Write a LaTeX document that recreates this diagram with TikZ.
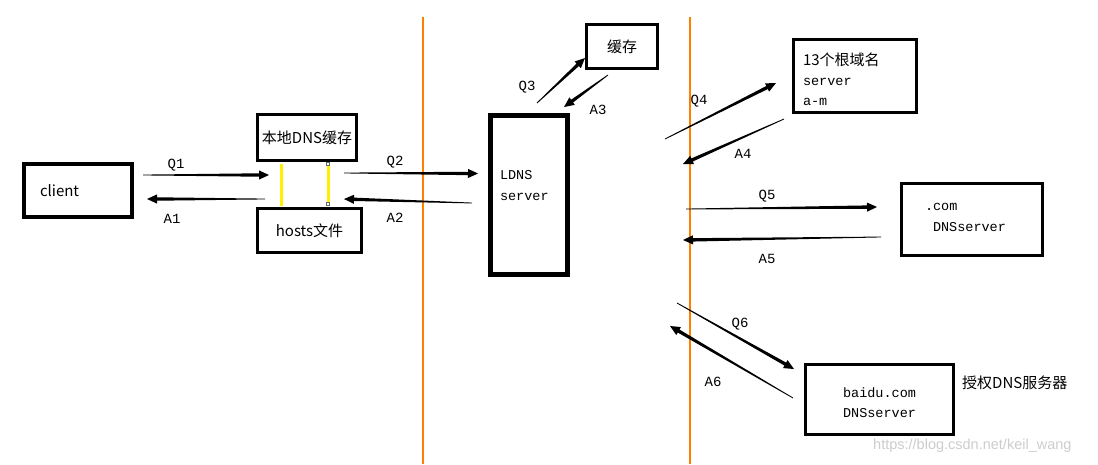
\documentclass[tikz,border=0pt]{standalone}
\usepackage{fontspec}
\setmainfont{Liberation Mono}
\newfontfamily\cjk{Noto Sans CJK SC}
\newfontfamily\wmfont{Liberation Sans}
\usepackage{tikz}
\usetikzlibrary{calc}

\definecolor{zone}{RGB}{255,128,0}
\definecolor{hostlink}{RGB}{255,240,0}
\definecolor{wmgray}{RGB}{205,205,205}

% tapered message arrow: thin tail, thick end, filled head
\newcommand{\flowarrow}[2]{%
  \path ($(#2)!10pt!(#1)$) coordinate (ah);
  \fill[black] ($(#1)!0.4pt!90:(#2)$) -- ($(ah)!1.7pt!90:(#2)$) -- ($(ah)!4.6pt!90:(#2)$) -- (#2)
    -- ($(ah)!4.6pt!-90:(#2)$) -- ($(ah)!1.7pt!-90:(#2)$) -- ($(#1)!0.4pt!-90:(#2)$) -- cycle;}

\begin{document}
\begin{tikzpicture}[
  x=1pt,y=-1pt,
  font=\fontsize{13.5}{21}\selectfont,
  box/.style={rectangle,draw=black,line width=3pt,inner sep=2pt},
  cjktext/.style={font=\cjk\fontsize{15}{18}\selectfont},
  lbl/.style={font=\fontsize{14}{16}\selectfont,inner sep=0pt},
  yel/.style={draw=hostlink,line width=3pt,shorten <=1.5pt,shorten >=1.5pt},
  handle/.style={rectangle,draw=black!60,fill=white,line width=0.6pt,minimum size=3.5pt,inner sep=0pt},
  zoneline/.style={draw=zone,line width=1.2pt},
  wm/.style={font=\wmfont\fontsize{14.5}{16}\selectfont,text=wmgray,inner sep=0pt}
]
\fill[white] (0,0) rectangle (1098,464);
\useasboundingbox (0,0) rectangle (1098,464);

% ===================== zone borders =====================
\draw[zoneline] (423,17) -- (423,464);
\draw[zoneline] (690,17) -- (690,464);

% ===================== host side =====================
\node[box,line width=4pt,cjktext,minimum width=108pt,minimum height=53pt,
      text width=76pt,inner xsep=16pt,align=left] (client) at (78,190.5) {client};
\node[box,cjktext,minimum width=99pt,minimum height=46pt] (lc) at (307,137.5) {本地DNS缓存};
\node[box,cjktext,minimum width=104pt,minimum height=44pt] (hf) at (309.5,230.5) {hosts文件};

% cache <-> hosts file
\draw[yel] (281,0 |- lc.south) -- (281,0 |- hf.north);
\draw[yel] (328,0 |- lc.south) -- (328,0 |- hf.north);
\node[handle] (h1) at ($(328,0 |- lc.south)+(0,2)$) {};
\node[handle] (h2) at ($(328,0 |- hf.north)+(0,-3)$) {};

% ===================== local DNS =====================
\node[box,line width=5pt,minimum width=77pt,minimum height=159pt,text width=58pt,
      inner xsep=9.5pt,align=left,text height=10pt,text depth=42pt] (ldns) at (529,195) {LDNS\\server};
\node[box,cjktext,minimum width=71pt,minimum height=44pt] (cache) at (622,46.5) {缓存};

% ===================== upstream servers =====================
\node[box,font=\fontsize{13.5}{20}\selectfont,minimum width=123pt,minimum height=73pt,text width=104pt,
      inner xsep=9.5pt,align=left,text height=13pt,text depth=35pt] (root) at (855,76)
  {{\cjk\fontsize{15}{20}\selectfont 13个根域名}\\server\\a-m};
\node[box,minimum width=141pt,minimum height=72pt,text width=94pt,inner xsep=23.5pt,
      align=left,text height=10pt,text depth=29pt] (com) at (972,219.5) {.com\\\hspace*{8pt}DNSserver};
\node[box,font=\fontsize{13.5}{20}\selectfont,minimum width=148pt,minimum height=70pt,text width=80pt,
      inner xsep=34pt,align=center,text height=10pt,text depth=15pt] (auth) at (879.5,399.5) {baidu.com\\DNSserver};
\node[cjktext,anchor=west,inner sep=0pt] (authlbl) at (962,383) {授权DNS服务器};

% ===================== message ends =====================
\coordinate (q1a) at (143,175);  \coordinate (q1b) at (269,175);
\coordinate (a1a) at (265,199);  \coordinate (a1b) at (147,199);
\coordinate (q2a) at (344,173);  \coordinate (q2b) at (478,173.5);
\coordinate (a2a) at (472,203);  \coordinate (a2b) at (344,199);
\coordinate (q3a) at (537,103);  \coordinate (q3b) at (585,58);
\coordinate (a3a) at (608,75);   \coordinate (a3b) at (564,107);
\coordinate (q4a) at (665,139);  \coordinate (q4b) at (776,83);
\coordinate (a4a) at (784,119);  \coordinate (a4b) at (683,164);
\coordinate (q5a) at (686,209);  \coordinate (q5b) at (877,207);
\coordinate (a5a) at (881,237);  \coordinate (a5b) at (683,240);
\coordinate (q6a) at (677,303);  \coordinate (q6b) at (794,369);
\coordinate (a6a) at (793,398);  \coordinate (a6b) at (670,326);

% ===================== messages =====================
\flowarrow{q1a}{q1b} \flowarrow{a1a}{a1b}
\flowarrow{q2a}{q2b} \flowarrow{a2a}{a2b}
\flowarrow{q3a}{q3b} \flowarrow{a3a}{a3b}
\flowarrow{q4a}{q4b} \flowarrow{a4a}{a4b}
\flowarrow{q5a}{q5b} \flowarrow{a5a}{a5b}
\flowarrow{q6a}{q6b} \flowarrow{a6a}{a6b}

\node[lbl] (lq1) at (176,165) {Q1};
\node[lbl] (la1) at (172,219) {A1};
\node[lbl] (lq2) at (395,162) {Q2};
\node[lbl] (la2) at (395,218) {A2};
\node[lbl] (lq3) at (527,87)  {Q3};
\node[lbl] (la3) at (598,110) {A3};
\node[lbl] (lq4) at (699,101) {Q4};
\node[lbl] (la4) at (743,154) {A4};
\node[lbl] (lq5) at (767,196) {Q5};
\node[lbl] (la5) at (767,259) {A5};
\node[lbl] (lq6) at (740,324) {Q6};
\node[lbl] (la6) at (713,382) {A6};

% watermark
\node[wm,anchor=west] (wmark) at (873,446) {https://blog.csdn.net/keil\_wang};

\end{tikzpicture}
\end{document}
